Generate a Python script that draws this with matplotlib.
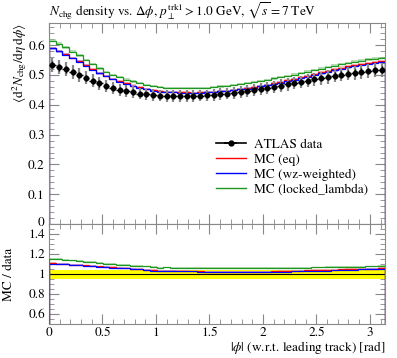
import numpy as np
import matplotlib
matplotlib.use("Agg")
import matplotlib.pyplot as plt
import matplotlib.transforms as mtransforms
from matplotlib.ticker import MultipleLocator, FuncFormatter

# ---------------- data ----------------
n_bins = 50
x_max = np.pi

data = [0.534, 0.527, 0.519, 0.510, 0.501, 0.491, 0.481, 0.472, 0.464, 0.457,
        0.451, 0.446, 0.442, 0.438, 0.435, 0.433, 0.431, 0.430, 0.430, 0.430,
        0.430, 0.430, 0.431, 0.432, 0.434, 0.436, 0.438, 0.441, 0.444, 0.447,
        0.450, 0.454, 0.457, 0.461, 0.465, 0.469, 0.473, 0.477, 0.481, 0.486,
        0.490, 0.494, 0.498, 0.502, 0.505, 0.508, 0.511, 0.514, 0.516, 0.518]
data_err_rel = 0.045
data_stat_rel = 0.022

mc_eq = [0.591, 0.581, 0.570, 0.558, 0.546, 0.533, 0.520, 0.508, 0.498, 0.488,
         0.479, 0.472, 0.465, 0.459, 0.454, 0.449, 0.445, 0.444, 0.443, 0.442,
         0.442, 0.441, 0.442, 0.442, 0.444, 0.446, 0.448, 0.451, 0.454, 0.457,
         0.460, 0.464, 0.468, 0.473, 0.478, 0.483, 0.488, 0.493, 0.498, 0.504,
         0.509, 0.514, 0.519, 0.525, 0.529, 0.533, 0.537, 0.541, 0.544, 0.548]

mc_wz = [0.590, 0.580, 0.569, 0.557, 0.545, 0.532, 0.518, 0.506, 0.496, 0.486,
         0.478, 0.471, 0.464, 0.458, 0.453, 0.448, 0.444, 0.443, 0.442, 0.441,
         0.441, 0.441, 0.441, 0.442, 0.443, 0.445, 0.447, 0.450, 0.452, 0.455,
         0.458, 0.462, 0.466, 0.470, 0.475, 0.480, 0.485, 0.490, 0.495, 0.501,
         0.506, 0.511, 0.516, 0.521, 0.526, 0.530, 0.534, 0.538, 0.541, 0.544]

mc_ll = [0.615, 0.606, 0.593, 0.579, 0.566, 0.551, 0.537, 0.523, 0.511, 0.501,
         0.493, 0.485, 0.479, 0.473, 0.468, 0.463, 0.459, 0.458, 0.457, 0.456,
         0.456, 0.456, 0.457, 0.458, 0.460, 0.462, 0.464, 0.467, 0.471, 0.474,
         0.477, 0.481, 0.484, 0.489, 0.493, 0.497, 0.502, 0.507, 0.512, 0.518,
         0.522, 0.528, 0.532, 0.537, 0.541, 0.545, 0.549, 0.553, 0.555, 0.558]
mc_err_rel = 0.008

labels = ["ATLAS data", "MC (eq)", "MC (wz-weighted)", "MC (locked_lambda)"]
colors = ["red", "blue", "#1f961f"]
band_colors = ["#ff9999", "#9999ff", "#88c888"]

title = (r"$N_\mathrm{chg}$ density vs. $\Delta\phi$, "
         r"$p_\perp^\mathrm{trk1} > 1.0$ GeV, $\sqrt{s} = 7$ TeV")
ylabel = r"$\langle \mathrm{d}^2 N_\mathrm{chg} / \mathrm{d}\eta\,\mathrm{d}\phi \rangle$"
xlabel = r"$|\phi|$ (w.r.t. leading track) [rad]"
rlabel = "MC / data"

# ---------------- style ----------------
plt.rcParams["font.family"] = ["STIXGeneral", "DejaVu Serif"]
plt.rcParams["mathtext.fontset"] = "stix"
plt.rcParams["font.size"] = 9.5

W, H = 397, 358
fig = plt.figure(figsize=(W / 100, H / 100), dpi=100)
L, R = 49 / W, 385 / W
ax = fig.add_axes([L, 1 - 224 / H, R - L, (224 - 23) / H])
rax = fig.add_axes([L, 1 - 324 / H, R - L, (324 - 224) / H])

edges = np.linspace(0, x_max, n_bins + 1)
centers = 0.5 * (edges[1:] + edges[:-1])
hw = 0.5 * (edges[1] - edges[0])
d = np.array(data)
mcs = [np.array(mc_eq), np.array(mc_wz), np.array(mc_ll)]

# main panel
ax.errorbar(centers, d, yerr=d * data_err_rel, fmt="none", ecolor="#888888",
            elinewidth=1.6, zorder=3)
for m, c, bc in zip(mcs, colors, band_colors):
    ax.stairs(m * (1 + mc_err_rel), edges, baseline=m * (1 - mc_err_rel),
              fill=True, color=bc, alpha=0.6, lw=0, zorder=2)
    ax.stairs(m, edges, color=c, lw=0.9, zorder=2.5)
ax.errorbar(centers, d, xerr=hw, yerr=d * data_stat_rel, fmt="o", color="black",
            ms=3.2, elinewidth=1.0, lw=1.0, zorder=4)

# legend handles
h_data = ax.errorbar([], [], xerr=[], fmt="o-", color="black", ms=3.5, lw=1.2)
h_mc = [plt.Line2D([], [], color=c, lw=1.0) for c in colors]
leg = ax.legend([h_data] + h_mc, labels, loc="upper left",
                bbox_to_anchor=(0.48, 0.45), frameon=False, handlelength=2.3,
                handletextpad=0.6, labelspacing=0.2, borderaxespad=0.0,
                fontsize=9.5)

ax.set_xlim(0, x_max)
ax.set_ylim(0, 0.675)
ax.set_title(title, loc="left", fontsize=9.5, pad=5)
ax.set_ylabel(ylabel, fontsize=9.5)
ax.yaxis.set_label_coords(-0.115, 1.0)
ax.yaxis.label.set_va("top")
ax.yaxis.label.set_ha("right")

# ratio panel
rax.axhspan(1 - data_err_rel, 1 + data_err_rel, color="#ffff00", lw=0, zorder=1)
rax.axhline(1.0, color="black", lw=0.8, zorder=2)
for m, c, bc in zip(mcs, colors, band_colors):
    r = m / d
    rax.stairs(r * (1 + mc_err_rel), edges, baseline=r * (1 - mc_err_rel),
               fill=True, color=bc, alpha=0.6, lw=0, zorder=2)
    rax.stairs(r, edges, color=c, lw=0.9, zorder=3)
rax.set_xlim(0, x_max)
rax.set_ylim(0.5, 1.5)
rax.set_xlabel(xlabel, fontsize=9.5, loc="right", labelpad=0)
rax.set_ylabel(rlabel, fontsize=9.5)
rax.yaxis.set_label_coords(-0.1, 0.5)

fmt = FuncFormatter(lambda v, p: ("%g" % round(v, 6)))
for a in (ax, rax):
    a.xaxis.set_major_locator(MultipleLocator(0.5))
    a.xaxis.set_minor_locator(MultipleLocator(0.1))
    a.tick_params(which="both", direction="in", top=True, right=True,
                  color="#888888", labelsize=9.5, pad=3)
    a.tick_params(which="major", length=7, width=0.8)
    a.tick_params(which="minor", length=3.5, width=0.6)
    for s in a.spines.values():
        s.set_color("#888888")
        s.set_linewidth(0.8)
    a.yaxis.set_major_formatter(fmt)
    a.xaxis.set_major_formatter(fmt)
ax.yaxis.set_major_locator(MultipleLocator(0.1))
ax.yaxis.set_minor_locator(MultipleLocator(0.02))
ax.tick_params(labelbottom=False)
rax.yaxis.set_major_locator(MultipleLocator(0.2))
rax.yaxis.set_minor_locator(MultipleLocator(0.05))
rax.tick_params(axis="x", pad=2)

# nudge the main panel's "0" label up slightly so it clears the ratio "1.4"
fig.canvas.draw()
shift = mtransforms.ScaledTranslation(0, 2 / 100, fig.dpi_scale_trans)
for lab in ax.get_yticklabels():
    if lab.get_text() == "0":
        lab.set_transform(lab.get_transform() + shift)

fig.savefig("out.png", dpi=100)
